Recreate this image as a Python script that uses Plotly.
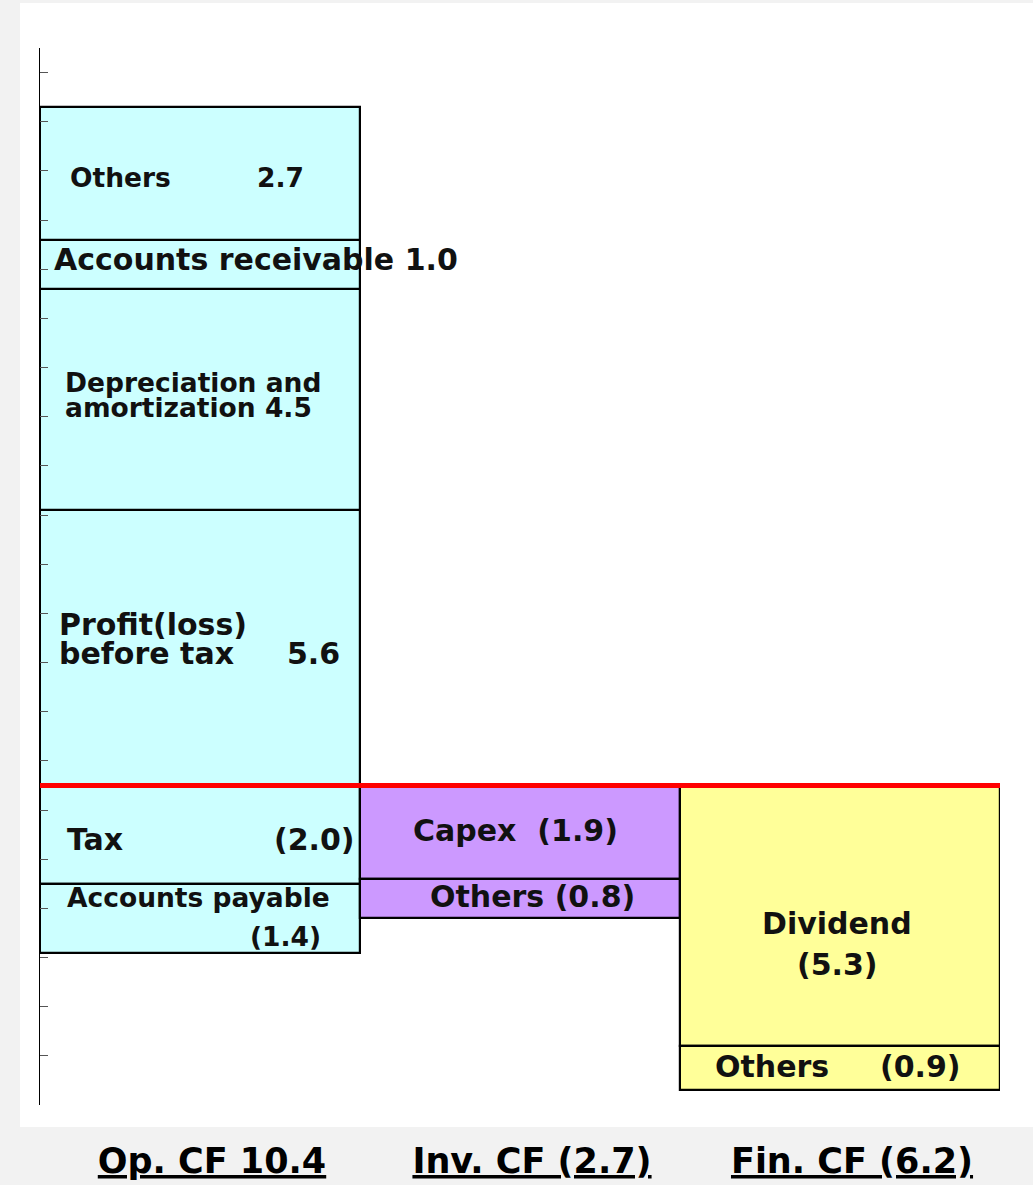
import plotly.graph_objects as go

# ---- data ----
cat_names = ["Op. CF", "Inv. CF", "Fin. CF"]

op_items = ["Profit(loss) before tax", "Depreciation and amortization",
            "Accounts receivable", "Others", "Tax", "Accounts payable"]
op_values = [5.6, 4.5, 1.0, 2.7, -2.0, -1.4]

inv_items = ["Capex", "Others"]
inv_values = [-1.9, -0.8]

fin_items = ["Dividend", "Others"]
fin_values = [-5.3, -0.9]

group_colors = ["#CCFFFF", "#CC99FF", "#FFFF99"]


def fmt(v):
    return f"{v:.1f}" if v >= 0 else f"({-v:.1f})"


groups = [(op_items, op_values), (inv_items, inv_values), (fin_items, fin_values)]
totals = [sum(v) for _, v in groups]
categories = [f"{n} {fmt(t)}" for n, t in zip(cat_names, totals)]

FONT = "DejaVu Sans"

fig = go.Figure()
centers = []  # segment centre (data units) per group/item
for gi, (items, values) in enumerate(groups):
    pos, neg = 0.0, 0.0
    cs = []
    for name, v in zip(items, values):
        if v >= 0:
            cs.append(pos + v / 2)
            pos += v
        else:
            cs.append(neg + v / 2)
            neg += v
        fig.add_trace(go.Bar(
            x=[categories[gi]], y=[v], name=name, width=1,
            marker=dict(color=group_colors[gi], line=dict(color="black", width=2.2)),
            showlegend=False, hoverinfo="name+y",
        ))
    centers.append(cs)

# plot geometry (px) for label placement
L, R = 40, 1000
Y0_PX, PX_PER_UNIT = 785.4, 49.16


def xp(px):
    return (px - L) / (R - L)


# (group, item, text, x_px, xanchor, target_px, font size)
labels = [
    (0, 3, op_items[3], 68, "left", 177, 26.5),
    (0, 3, fmt(op_values[3]), 255, "left", 177, 26.5),
    (0, 2, f"{op_items[2]} {fmt(op_values[2])}", 52, "left", 259, 30),
    (0, 1, "Depreciation and", 63, "left", 382, 26.5),
    (0, 1, f"amortization {fmt(op_values[1])}", 63, "left", 407, 26.5),
    (0, 0, "Profit(loss)", 57, "left", 624, 30),
    (0, 0, "before tax", 57, "left", 653, 30),
    (0, 0, fmt(op_values[0]), 285, "left", 653, 30),
    (0, 4, op_items[4], 65, "left", 839, 30),
    (0, 4, fmt(op_values[4]), 357, "right", 839, 30),
    (0, 5, op_items[5], 65, "left", 897, 26.5),
    (0, 5, fmt(op_values[5]), 323, "right", 936, 26.5),
    (1, 0, f"{inv_items[0]}  {fmt(inv_values[0])}", 515, "center", 830, 30),
    (1, 1, f"{inv_items[1]} {fmt(inv_values[1])}", 532, "center", 896, 30),
    (2, 0, fin_items[0], 837, "center", 923, 30),
    (2, 0, fmt(fin_values[0]), 837, "center", 964, 30),
    (2, 1, fin_items[1], 713, "left", 1066, 30),
    (2, 1, fmt(fin_values[1]), 963, "right", 1066, 30),
]

annotations = []
for gi, ii, text, xpx, anchor, ty, fs in labels:
    c = centers[gi][ii]
    cpx = Y0_PX - c * PX_PER_UNIT
    annotations.append(dict(
        x=xp(xpx), xref="paper", xanchor=anchor,
        y=c, yref="y", yanchor="middle", yshift=cpx - ty,
        text=text, showarrow=False,
        font=dict(family=FONT, size=fs, color="#111111", weight="bold"),
    ))

fig.update_layout(
    width=1033, height=1185,
    margin=dict(l=40, r=33, t=48, b=80, autoexpand=False),
    paper_bgcolor="#f2f2f2", plot_bgcolor="white",
    barmode="relative", bargap=0,
    annotations=annotations,
    shapes=[
        dict(type="rect", xref="paper", yref="paper",
             x0=-0.0208, x1=1.0344, y0=-0.0208, y1=1.0426,
             fillcolor="white", line=dict(width=0), layer="below"),
        dict(type="line", xref="paper", yref="y", x0=0, x1=1, y0=0, y1=0,
             line=dict(color="#ff0000", width=5), layer="above"),
    ],
)
fig.update_xaxes(
    type="category", range=[-0.5, 2.5], showline=False, ticks="",
    showgrid=False, zeroline=False,
    tickfont=dict(family=FONT, size=35, color="black", weight="bold",
                  lineposition="under"),
    ticklabelshift=12, ticklabelstandoff=32,
)
fig.update_yaxes(
    range=[-6.5, 15], showline=True, linecolor="black", linewidth=1,
    ticks="inside", ticklen=8, tickcolor="#555555", tickwidth=1,
    tick0=-6.5, dtick=1, showticklabels=False, showgrid=False, zeroline=False,
)

fig.write_html(
    "out.html",
    config={"displayModeBar": False},
    post_script="document.body.style.margin='0';"
                "document.body.style.background='#f2f2f2';",
)
